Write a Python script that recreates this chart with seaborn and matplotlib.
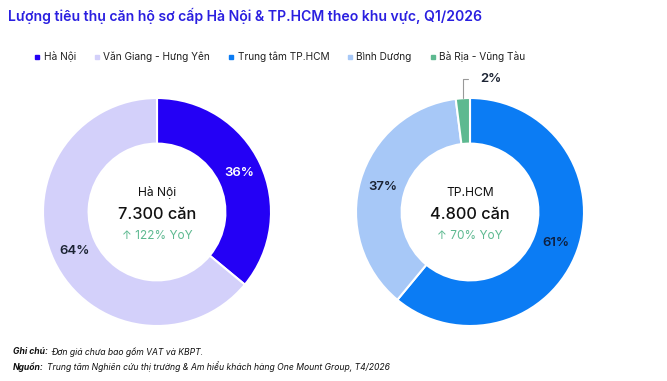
import matplotlib
matplotlib.use('Agg')
import matplotlib.pyplot as plt
import seaborn as sns
import numpy as np
from matplotlib.lines import Line2D

# data
hn_labels = ['Hà Nội', 'Văn Giang - Hưng Yên']
hn_shares = [36, 64]
hcm_labels = ['Trung tâm TP.HCM', 'Bình Dương', 'Bà Rịa - Vũng Tàu']
hcm_shares = [61, 37, 2]

hn_colors = ['#2400F5', '#D3D0FA']
hcm_colors = ['#0B7CF4', '#A7C8F7', '#5DB990']

title = 'Lượng tiêu thụ căn hộ sơ cấp Hà Nội & TP.HCM theo khu vực, Q1/2026'
centers = [('Hà Nội', '7.300 căn', '↑ 122% YoY'),
           ('TP.HCM', '4.800 căn', '↑ 70% YoY')]
notes = [('Ghi chú:', 'Đơn giá chưa bao gồm VAT và KBPT.'),
         ('Nguồn:', 'Trung tâm Nghiên cứu thị trường & Am hiểu khách hàng One Mount Group, T4/2026')]

sns.set_theme(style='white')
plt.rcParams['font.family'] = ['Inter', 'DejaVu Sans']

W, H = 667, 381
fig = plt.figure(figsize=(W / 100, H / 100), dpi=100)
fig.patch.set_facecolor('white')

R = 114  # outer radius in px


def donut_axes(cx, cy):
    return fig.add_axes([(cx - R) / W, (H - cy - R) / H, 2 * R / W, 2 * R / H])


def draw_donut(ax, shares, colors, center_text):
    wedges, _ = ax.pie(shares, colors=colors, startangle=90, counterclock=False,
                       radius=1, wedgeprops=dict(width=0.4, edgecolor='white', linewidth=1.5))
    ax.set_xlim(-1, 1)
    ax.set_ylim(-1, 1)
    ax.set_aspect('equal')
    ax.axis('off')
    name, total, yoy = center_text
    ax.text(0, 0.17, name, ha='center', va='center', fontsize=8.7, color='#111111')
    ax.text(0, -0.02, total, ha='center', va='center', fontsize=11.8, color='#111111',
            fontweight='medium')
    ax.text(0, -0.21, yoy, ha='center', va='center', fontsize=8.5, color='#5DB990')
    return wedges


def pct_labels(ax, wedges, shares, colors, outside=()):
    for i, (w, s) in enumerate(zip(wedges, shares)):
        ang = np.deg2rad((w.theta1 + w.theta2) / 2)
        if i in outside:
            x0, y0 = np.cos(ang), np.sin(ang)
            ax.annotate(f'{s}%', xy=(x0, y0), xytext=(0.18, 1.17),
                        ha='center', va='center', fontsize=9.5, color='#1B2333',
                        fontweight='semibold', annotation_clip=False,
                        arrowprops=dict(arrowstyle='-', color='#999999', lw=0.8,
                                        connectionstyle='angle,angleA=0,angleB=90,rad=0',
                                        shrinkA=6, shrinkB=0))
        else:
            ax.text(np.cos(ang) * 0.8, np.sin(ang) * 0.8, f'{s}%', ha='center',
                    va='center', fontsize=9.5, color=colors[i], fontweight='semibold')


ax1 = donut_axes(157, 212)
w1 = draw_donut(ax1, hn_shares, hn_colors, centers[0])
pct_labels(ax1, w1, hn_shares, ['white', '#1B2333'])

ax2 = donut_axes(470, 212)
w2 = draw_donut(ax2, hcm_shares, hcm_colors, centers[1])
pct_labels(ax2, w2, hcm_shares, ['#0E2040', '#1B2333', '#1B2333'], outside=(2,))

fig.text(8 / W, 1 - 16 / H, title, ha='left', va='center', fontsize=10.1,
         color='#2A1FE0', fontweight='semibold')

handles = [Line2D([], [], marker='s', linestyle='', markersize=3.5, color=c)
           for c in hn_colors + hcm_colors]
fig.legend(handles, hn_labels + hcm_labels, loc='center', ncol=5,
           bbox_to_anchor=(280 / W, 1 - 57 / H), frameon=False, fontsize=7.3,
           handlelength=0.5, handletextpad=0.4, columnspacing=1.8,
           labelcolor='#222222')

# footnotes: bold italic lead-in followed by italic text
fig.canvas.draw()
renderer = fig.canvas.get_renderer()
for (lead, body), y in zip(notes, [352, 367]):
    t = fig.text(13 / W, 1 - y / H, lead, ha='left', va='center', fontsize=6.2,
                 fontstyle='italic', fontweight='bold', color='#111111')
    x_end = t.get_window_extent(renderer).x1
    fig.text((x_end + 3) / W, 1 - y / H, body, ha='left', va='center', fontsize=6.2,
             fontstyle='italic', color='#111111')

fig.savefig('out.png', dpi=100, facecolor='white')
